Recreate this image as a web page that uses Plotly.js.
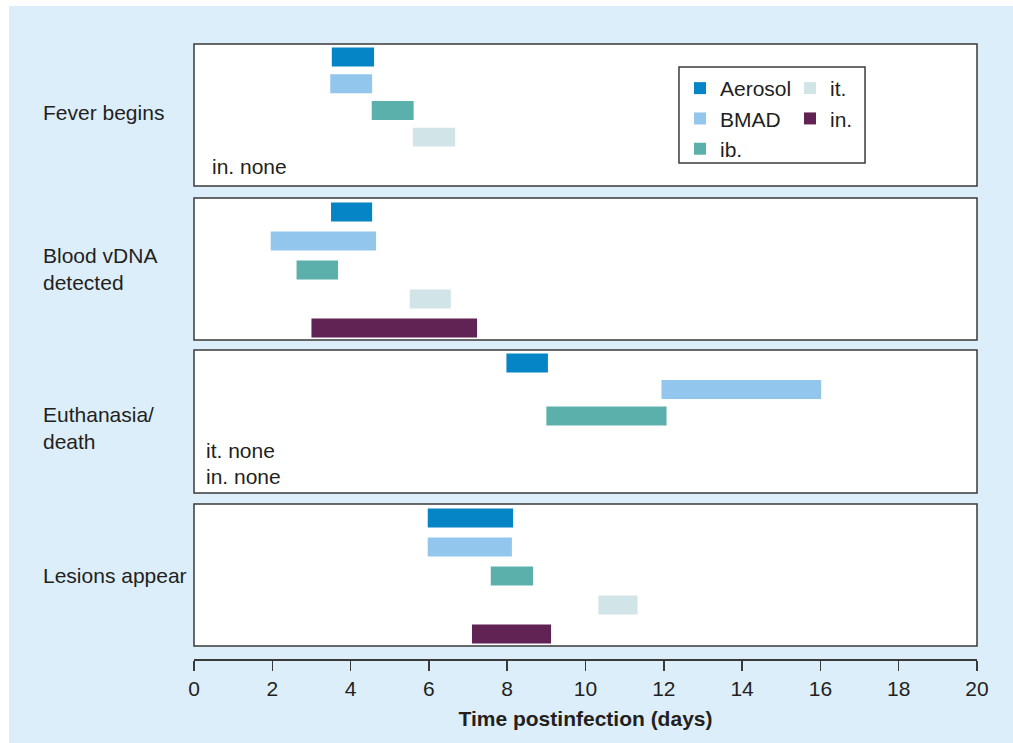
<!DOCTYPE html>
<html>
<head>
<meta charset="utf-8">
<script src="https://cdn.plot.ly/plotly-3.0.1.min.js"></script>
<style>
  html, body { margin: 0; padding: 0; background: #ffffff; }
  #chart { position: absolute; left: 9px; top: 6px; width: 1004px; height: 737px; }
</style>
</head>
<body>
<div id="chart"></div>
<script>
// ---- Data (days postinfection) ----
const phases = ['Fever begins', 'Blood vDNA<br>detected', 'Euthanasia/<br>death', 'Lesions appear'];
const seriesNames = ['Aerosol', 'BMAD', 'ib.', 'it.', 'in.'];

const aerosolStart = [3.52, 3.50, 7.98, 5.97];
const aerosolEnd   = [4.60, 4.55, 9.04, 8.15];
const bmadStart    = [3.48, 1.96, 11.94, 5.97];
const bmadEnd      = [4.55, 4.65, 16.02, 8.12];
const ibStart      = [4.54, 2.62, 9.00, 7.58];
const ibEnd        = [5.61, 3.68, 12.07, 8.66];
const itStart      = [5.59, 5.51, null, 10.33];
const itEnd        = [6.67, 6.56, null, 11.33];
const inStart      = [null, 3.00, null, 7.10];
const inEnd        = [null, 7.23, null, 9.12];

const noneNotes = [['in. none'], [], ['it. none', 'in. none'], []];
const xTicks = [0, 2, 4, 6, 8, 10, 12, 14, 16, 18, 20];

// ---- Styles ----
const colors = ['#0584c6', '#93c6ec', '#5bb0ab', '#d1e4e7', '#612353'];
const starts = [aerosolStart, bmadStart, ibStart, itStart, inStart];
const ends   = [aerosolEnd, bmadEnd, ibEnd, itEnd, inEnd];
const legendOf = ['legend', 'legend', 'legend', 'legend2', 'legend2'];

const domains = [[0.7691, 1.0], [0.5187, 0.7496], [0.2699, 0.5024], [0.0211, 0.2520]];
const yRanges = [[4.83, -0.487], [4.414, -0.483], [4.906, -0.49], [4.414, -0.483]];
const barWidths = [0.71, 0.655, 0.717, 0.655];
const yNames = ['y', 'y2', 'y3', 'y4'];

const textColor = '#231f20';
const font = {family: '"Liberation Sans", Arial, Helvetica, sans-serif', size: 21, color: textColor};

const traces = [];
for (let s = 0; s < seriesNames.length; s++) {
  for (let p = 0; p < phases.length; p++) {
    const st = starts[s][p], en = ends[s][p];
    const firstShown = p === starts[s].findIndex(v => v !== null);
    traces.push({
      type: 'bar',
      orientation: 'h',
      name: seriesNames[s],
      legendgroup: seriesNames[s],
      legend: legendOf[s],
      showlegend: firstShown,
      x: st === null ? [] : [en - st],
      base: st === null ? [] : [st],
      y: st === null ? [] : [s],
      width: barWidths[p],
      xaxis: 'x',
      yaxis: yNames[p],
      marker: {color: colors[s], line: {width: 0}},
      hoverinfo: 'skip'
    });
  }
}

const shapes = [];
const annotations = [];
for (let p = 0; p < phases.length; p++) {
  shapes.push({
    type: 'rect', xref: 'x domain', yref: yNames[p] + ' domain',
    x0: 0, x1: 1, y0: 0, y1: 1,
    fillcolor: '#ffffff', line: {width: 0}, layer: 'below'
  });
  shapes.push({
    type: 'rect', xref: 'x domain', yref: yNames[p] + ' domain',
    x0: 0, x1: 1, y0: 0, y1: 1,
    fillcolor: 'rgba(0,0,0,0)', line: {color: '#3a3a3a', width: 1.5}, layer: 'above'
  });
  const labelY = p === 2 ? 0.455 : (p === 0 ? 0.52 : 0.5);
  annotations.push({
    text: phases[p], xref: 'paper', yref: yNames[p] + ' domain',
    x: -0.1954, y: labelY, xanchor: 'left', yanchor: 'middle',
    align: 'left', showarrow: false, font: font
  });
}
// "none" notes
const notePos = {0: [[0.0205, 0.134]], 2: [[0.0128, 0.294], [0.0128, 0.112]]};
for (const p in notePos) {
  notePos[p].forEach((pos, i) => {
    annotations.push({
      text: noneNotes[p][i], xref: 'paper', yref: yNames[p] + ' domain',
      x: pos[0], y: pos[1], xanchor: 'left', yanchor: 'middle',
      showarrow: false, font: font
    });
  });
}
// legend box
shapes.push({
  type: 'rect', xref: 'paper', yref: 'paper',
  x0: 0.6194, x1: 0.857, y0: 0.8065, y1: 0.9626,
  line: {color: '#3a3a3a', width: 1.5}, fillcolor: 'rgba(0,0,0,0)', layer: 'above'
});

const layout = {
  width: 1004, height: 737,
  margin: {l: 185, r: 36, t: 38, b: 84},
  paper_bgcolor: '#ddeefb',
  plot_bgcolor: 'rgba(0,0,0,0)',
  font: font,
  barmode: 'overlay',
  showlegend: true,
  xaxis: {
    range: [0, 20], anchor: 'free', position: 0,
    tickmode: 'array', tickvals: xTicks, ticktext: xTicks.map(String),
    ticks: 'outside', ticklen: 10, tickwidth: 1.5, tickcolor: '#3a3a3a',
    showline: true, linecolor: '#3a3a3a', linewidth: 1.5,
    showgrid: false, zeroline: false, fixedrange: true,
    tickfont: font, automargin: false,
    title: {text: '<b>Time postinfection (days)</b>', font: font, standoff: 12}
  },
  shapes: shapes,
  annotations: annotations,
  legend: {
    x: 0.6207, y: 0.961, xanchor: 'left', yanchor: 'top',
    bgcolor: 'rgba(0,0,0,0)', borderwidth: 0, font: font,
    orientation: 'v', traceorder: 'normal'
  },
  legend2: {
    x: 0.7612, y: 0.961, xanchor: 'left', yanchor: 'top',
    bgcolor: 'rgba(0,0,0,0)', borderwidth: 0, font: font,
    orientation: 'v', traceorder: 'normal'
  }
};
for (let p = 0; p < phases.length; p++) {
  const key = p === 0 ? 'yaxis' : 'yaxis' + (p + 1);
  layout[key] = {
    domain: domains[p], range: yRanges[p], anchor: 'x',
    showticklabels: false, ticks: '', showgrid: false, zeroline: false,
    showline: false, fixedrange: true
  };
}

Plotly.newPlot('chart', traces, layout, {displayModeBar: false, staticPlot: true});
</script>
</body>
</html>
